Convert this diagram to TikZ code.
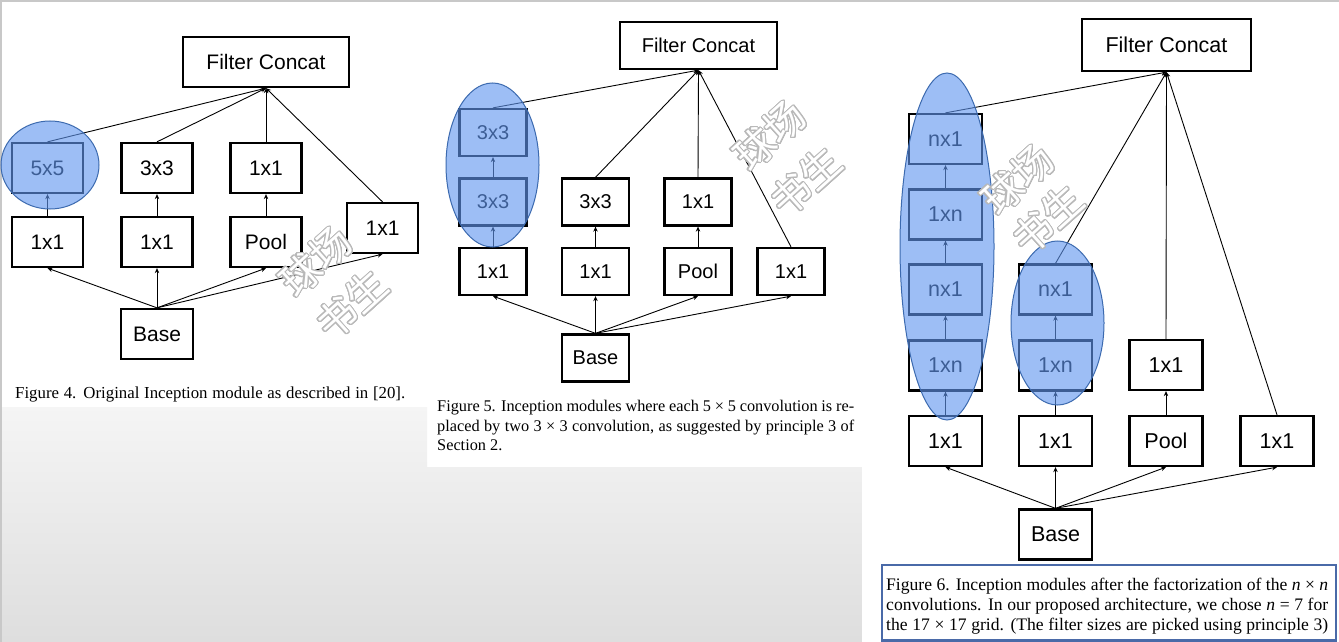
\documentclass[tikz,border=0pt]{standalone}
\usepackage{fontspec}
\usepackage{contour}
\setmainfont{Liberation Serif}
\newfontfamily\boxfont{Liberation Sans}
\newfontfamily\cjk{Noto Sans CJK SC}
\usetikzlibrary{arrows.meta}
\definecolor{ellfill}{RGB}{98,151,240}
\definecolor{elldraw}{RGB}{60,106,175}
\definecolor{capblue}{RGB}{74,106,168}
\definecolor{bordergray}{RGB}{200,200,200}
\definecolor{wmgray}{RGB}{185,185,185}
\contourlength{1.1pt}
\contournumber{24}
\newcommand{\wmark}[1]{\contour{wmgray}{\textcolor{white}{#1}}}
\tikzset{
  blk/.style={draw=black, line width=2.3pt, fill=white, inner sep=0pt},
  b4/.style={blk, minimum width=71pt, minimum height=50pt, font=\boxfont\fontsize{21}{24}\selectfont},
  b5/.style={blk, minimum width=67pt, minimum height=47pt, font=\boxfont\fontsize{20}{23}\selectfont},
  b6/.style={blk, minimum width=73pt, minimum height=50pt, font=\boxfont\fontsize{21.5}{24}\selectfont},
  conn/.style={line width=0.9pt, -{Stealth[length=5pt,width=4.5pt]}},
  hilite/.style={fill=ellfill, fill opacity=0.62, draw=elldraw, line width=1pt},
  captxt/.style={anchor=west, inner sep=0pt, font=\fontsize{16.3}{19.7}\selectfont},
  wm/.style={rotate=42, inner sep=0pt, font=\cjk\fontsize{40}{42}\selectfont}
}
\begin{document}
\begin{tikzpicture}[x=1pt,y=-1pt]
\useasboundingbox (0,0) rectangle (1339,642);
% background
\fill[white] (0,0) rectangle (1339,642);
\shade[top color=white!96!black, bottom color=white!87!black]
  (0,407) -- (427,407) -- (427,467) -- (862,467) -- (862,642) -- (0,642) -- cycle;
\fill[bordergray] (0,0) rectangle (1339,2);
\fill[bordergray] (0,0) rectangle (1.5,642);

% ================= Figure 4 =================
\node[b4, minimum width=166pt] (fc4) at (266,62) {Filter Concat};
\node[b4] (f4a2) at (47.5,168) {5x5};
\node[b4] (f4b2) at (157,168) {3x3};
\node[b4] (f4c2) at (266,168) {1x1};
\node[b4] (f4a1) at (47.5,242) {1x1};
\node[b4] (f4b1) at (157,242) {1x1};
\node[b4] (f4c1) at (266,242) {Pool};
\node[b4] (f4d1) at (382.5,228) {1x1};
\node[b4, minimum width=72pt] (base4) at (157,334) {Base};
\foreach \n in {f4a1,f4b1,f4c1,f4d1} \draw[conn] (base4.north) -- (\n.south);
\draw[conn] (f4a1) -- (f4a2);
\draw[conn] (f4b1) -- (f4b2);
\draw[conn] (f4c1) -- (f4c2);
\foreach \n in {f4a2,f4b2,f4c2,f4d1} \draw[conn] (\n.north) -- (fc4.south);
\draw[hilite] (50,165) ellipse [x radius=49, y radius=44];
\node[captxt, font=\fontsize{16.8}{19.7}\selectfont] (cap4) at (15,394) {\makebox[390pt][s]{Figure 4. Original Inception module as described in [20].}};

% ================= Figure 5 =================
\node[b5, minimum width=157pt] (fc5) at (698.5,45.5) {Filter Concat};
\node[b5] (f5a3) at (493,132.5) {3x3};
\node[b5] (f5a2) at (493,202) {3x3};
\node[b5] (f5a1) at (493,271.5) {1x1};
\node[b5] (f5b2) at (595.5,202) {3x3};
\node[b5] (f5b1) at (595.5,271.5) {1x1};
\node[b5] (f5c2) at (698,202) {1x1};
\node[b5] (f5c1) at (698,271.5) {Pool};
\node[b5] (f5d1) at (791,271.5) {1x1};
\node[b5] (base5) at (595.5,358) {Base};
\foreach \n in {f5a1,f5b1,f5c1,f5d1} \draw[conn] (base5.north) -- (\n.south);
\draw[conn] (f5a1) -- (f5a2);
\draw[conn] (f5a2) -- (f5a3);
\draw[conn] (f5b1) -- (f5b2);
\draw[conn] (f5c1) -- (f5c2);
\foreach \n in {f5a3,f5b2,f5c2,f5d1} \draw[conn] (\n.north) -- (fc5.south);
\draw[hilite] (492.5,165) ellipse [x radius=46.5, y radius=82];
\node[captxt, align=left] (cap5) at (437,425.5) {%
\makebox[417pt][s]{Figure 5. Inception modules where each 5 × 5 convolution is re-}\\
\makebox[417pt][s]{placed by two 3 × 3 convolution, as suggested by principle 3 of}\\
Section 2.};

% ================= Figure 6 =================
\node[b6, minimum width=169pt, minimum height=52pt] (fc6) at (1166.5,45) {Filter Concat};
\node[b6] (f6a5) at (945.5,139) {nx1};
\node[b6] (f6a4) at (945.5,214.5) {1xn};
\node[b6] (f6a3) at (945.5,289.5) {nx1};
\node[b6] (f6a2) at (945.5,365.5) {1xn};
\node[b6] (f6a1) at (945.5,441) {1x1};
\node[b6] (f6b3) at (1055.5,289.5) {nx1};
\node[b6] (f6b2) at (1055.5,365.5) {1xn};
\node[b6] (f6b1) at (1055.5,441) {1x1};
\node[b6] (f6c2) at (1166,365) {1x1};
\node[b6] (f6c1) at (1166,441) {Pool};
\node[b6] (f6d1) at (1277,441) {1x1};
\node[b6] (base6) at (1055.5,534.5) {Base};
\foreach \n in {f6a1,f6b1,f6c1,f6d1} \draw[conn] (base6.north) -- (\n.south);
\draw[conn] (f6a1) -- (f6a2);
\draw[conn] (f6a2) -- (f6a3);
\draw[conn] (f6a3) -- (f6a4);
\draw[conn] (f6a4) -- (f6a5);
\draw[conn] (f6b1) -- (f6b2);
\draw[conn] (f6b2) -- (f6b3);
\draw[conn] (f6c1) -- (f6c2);
\foreach \n in {f6a5,f6b3,f6c2,f6d1} \draw[conn] (\n.north) -- (fc6.south);
\draw[hilite] (947,246.5) ellipse [x radius=47, y radius=173.5];
\draw[hilite] (1057.5,323) ellipse [x radius=46.5, y radius=82];
\draw[capblue, line width=2.5pt] (882,565) rectangle (1336,640.5);
\node[captxt, align=left, font=\fontsize{17.6}{19.8}\selectfont] (cap6) at (886,606) {%
\makebox[442pt][s]{Figure 6. Inception modules after the factorization of the \textit{n} × \textit{n}}\\
\makebox[442pt][s]{convolutions. In our proposed architecture, we chose \textit{n} = 7 for}\\
\makebox[442pt][s]{the 17 × 17 grid. (The filter sizes are picked using principle 3)}};

% watermarks (white with grey outline, on top)
\node[wm] (wm4a) at (316,262) {\wmark{球场}};
\node[wm] (wm4b) at (352,305) {\wmark{书生}};
\node[wm] (wm5a) at (770,136) {\wmark{球场}};
\node[wm] (wm5b) at (806,182) {\wmark{书生}};
\node[wm] (wm6a) at (1018,180) {\wmark{球场}};
\node[wm] (wm6b) at (1048,220) {\wmark{书生}};
\end{tikzpicture}
\end{document}
